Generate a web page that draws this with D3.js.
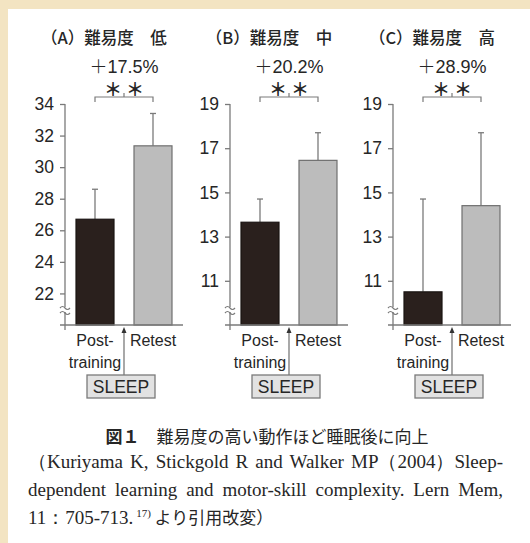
<!DOCTYPE html>
<html>
<head>
<meta charset="utf-8">
<script src="https://cdn.jsdelivr.net/npm/d3@7"></script>
<style>
  html, body { margin: 0; padding: 0; background: #f3e4c2; }
  svg { display: block; }
</style>
</head>
<body>
<svg id="chart" width="530" height="543"></svg>
<script>
// ---- data ----
const panelTitles = ["（A）難易度　低", "（B）難易度　中", "（C）難易度　高"];
const categories = ["Post-training", "Retest"];
const postMeans = [26.7, 13.65, 10.5];
const retestMeans = [31.35, 16.45, 14.4];
const postErrors = [1.9, 1.05, 4.2];
const retestErrors = [2.05, 1.25, 3.3];
const gainLabels = ["17.5%", "20.2%", "28.9%"];
const yDomains = [[20, 34], [9, 19], [9, 19]];
const yTicks = [[22, 24, 26, 28, 30, 32, 34], [11, 13, 15, 17, 19], [11, 13, 15, 17, 19]];
const captionLabel = "図１";
const captionTitle = "難易度の高い動作ほど睡眠後に向上";
const refLines = [
  "（Kuriyama K, Stickgold R and Walker MP（2004）Sleep-",
  "dependent learning and motor-skill complexity. Lern Mem,"
];

// ---- layout ----
const axisX = [65, 230, 393];
const yTop = 104, yBase = 325;
const barColors = ["#2a201d", "#bcbcbc"];
const barStroke = ["#1a1412", "#6f6f6f"];
const lineGray = "#7a7a7a";
const textColor = "#262626";
const sansFont = "'Liberation Sans', Arial, sans-serif";
const cjkFont = "'Noto Sans CJK JP', sans-serif";
const serifFont = "'Liberation Serif', 'Times New Roman', serif";

const svg = d3.select("#chart");
svg.append("rect").attr("x", 8).attr("y", 9).attr("width", 522).attr("height", 534).attr("fill", "#ffffff");

panelTitles.forEach((title, i) => {
  const g = svg.append("g");
  const ax = axisX[i];
  const x = d3.scaleBand().domain(categories)
    .range([ax + 1, ax + 117]).paddingInner(0.345).paddingOuter(0.1725);
  const y = d3.scaleLinear().domain(yDomains[i]).range([yBase, yTop]);
  const means = [postMeans[i], retestMeans[i]];
  const errs = [postErrors[i], retestErrors[i]];
  const cx = categories.map(c => x(c) + x.bandwidth() / 2);
  const mid = (cx[0] + cx[1]) / 2;

  // title
  g.append("text").attr("x", mid - 20).attr("y", 44).attr("text-anchor", "middle")
    .attr("font-family", cjkFont).attr("font-size", 16.5).attr("font-weight", 500)
    .attr("fill", textColor).text(title);

  // gain label
  const gl = g.append("text").attr("x", mid).attr("y", 73).attr("text-anchor", "middle")
    .attr("font-family", sansFont).attr("font-size", 18).attr("fill", textColor);
  gl.append("tspan").attr("font-family", cjkFont).attr("font-weight", 300).text("＋");
  gl.append("tspan").text(gainLabels[i]);

  // significance bracket
  g.append("path")
    .attr("d", `M${cx[0]},102V97H${cx[1]}V102M${mid},97V93`)
    .attr("fill", "none").attr("stroke", lineGray).attr("stroke-width", 1.2);
  [-11, 11].forEach(d => {
    g.append("text").attr("x", mid + d).attr("y", 96).attr("text-anchor", "middle")
      .attr("font-family", cjkFont).attr("font-size", 18).attr("font-weight", "bold")
      .attr("fill", textColor).text("＊");
  });

  // error bars (behind bars)
  categories.forEach((c, k) => {
    const top = y(means[k] + errs[k]);
    g.append("line").attr("x1", cx[k]).attr("x2", cx[k])
      .attr("y1", y(means[k])).attr("y2", top)
      .attr("stroke", lineGray).attr("stroke-width", 1.3);
    g.append("line").attr("x1", cx[k] - 3).attr("x2", cx[k] + 3)
      .attr("y1", top).attr("y2", top)
      .attr("stroke", lineGray).attr("stroke-width", 1.3);
  });

  // bars
  g.selectAll("rect.bar").data(categories).enter().append("rect")
    .attr("class", "bar")
    .attr("x", c => x(c)).attr("width", x.bandwidth())
    .attr("y", (c, k) => y(means[k]))
    .attr("height", (c, k) => yBase - y(means[k]))
    .attr("fill", (c, k) => barColors[k])
    .attr("stroke", (c, k) => barStroke[k]).attr("stroke-width", 1.2);

  // baseline
  g.append("line").attr("x1", ax - 5).attr("x2", ax + 118)
    .attr("y1", yBase).attr("y2", yBase)
    .attr("stroke", lineGray).attr("stroke-width", 1.3);

  // y axis
  const axis = d3.axisLeft(y).tickValues(yTicks[i]).tickSize(5).tickSizeOuter(0).tickPadding(6);
  const ag = g.append("g").attr("transform", `translate(${ax},0)`).call(axis);
  ag.select(".domain").remove();
  ag.selectAll(".tick line").attr("stroke", lineGray).attr("stroke-width", 1.3);
  ag.selectAll(".tick text").attr("font-family", sansFont).attr("font-size", 17.5)
    .attr("fill", textColor);
  g.append("line").attr("x1", ax).attr("x2", ax)
    .attr("y1", yTop).attr("y2", yBase + 5)
    .attr("stroke", lineGray).attr("stroke-width", 1.3);

  // axis break mark
  const by = yBase - 17;
  g.append("rect").attr("x", ax - 2).attr("y", by - 1).attr("width", 4).attr("height", 5).attr("fill", "#fff");
  [by - 1, by + 4].forEach(yy => {
    g.append("path")
      .attr("d", `M${ax - 5},${yy + 1}q2.5,-3 5,0t5,0`)
      .attr("fill", "none").attr("stroke", lineGray).attr("stroke-width", 1.2);
  });

  // category labels
  const lab = (t, xx, yy) => g.append("text").attr("x", xx).attr("y", yy)
    .attr("text-anchor", "middle").attr("font-family", sansFont).attr("font-size", 16)
    .attr("fill", textColor).text(t);
  lab("Post-", cx[0], 346);
  lab("training", cx[0], 368);
  lab("Retest", cx[1], 346);

  // sleep arrow and box
  const gapX = (x(categories[0]) + x.bandwidth() + x(categories[1])) / 2;
  g.append("line").attr("x1", gapX).attr("x2", gapX).attr("y1", 375).attr("y2", 332)
    .attr("stroke", lineGray).attr("stroke-width", 1.3);
  g.append("path").attr("d", `M${gapX},327l-2.5,6h5z`).attr("fill", "#333");
  g.append("rect").attr("x", gapX - 37).attr("y", 375).attr("width", 68).attr("height", 23)
    .attr("fill", "#e2e2e2").attr("stroke", "#7a7a7a").attr("stroke-width", 1.3);
  g.append("text").attr("x", gapX - 3).attr("y", 393).attr("text-anchor", "middle")
    .attr("font-family", sansFont).attr("font-size", 17.5).attr("fill", textColor).text("SLEEP");
});

// caption
const cap = svg.append("text").attr("x", 267).attr("y", 443).attr("text-anchor", "middle")
  .attr("font-family", cjkFont).attr("font-size", 17).attr("fill", textColor);
cap.append("tspan").attr("font-weight", "bold").text(captionLabel);
cap.append("tspan").text("　" + captionTitle);

// reference lines, justified by widening the word gaps
const lineWidth = 475;
refLines.forEach((t, k) => {
  const tx = svg.append("text").attr("x", 28).attr("y", 468 + k * 28)
    .attr("font-family", serifFont).attr("font-size", 19).attr("fill", textColor).text(t);
  const natural = tx.node().getComputedTextLength();
  const gaps = (t.match(/ /g) || []).length;
  if (gaps > 0 && natural < lineWidth) tx.attr("word-spacing", (lineWidth - natural) / gaps);
  else if (natural > lineWidth) tx.attr("textLength", lineWidth).attr("lengthAdjust", "spacingAndGlyphs");
});
const last = svg.append("text").attr("x", 28).attr("y", 524)
  .attr("font-family", serifFont).attr("font-size", 19).attr("fill", textColor);
last.append("tspan").text("11：705-713.");
last.append("tspan").attr("dy", -7).attr("font-size", 11).text(" 17)");
last.append("tspan").attr("dy", 7).attr("font-family", cjkFont).attr("font-size", 17).text(" より引用改変）");
</script>
</body>
</html>
